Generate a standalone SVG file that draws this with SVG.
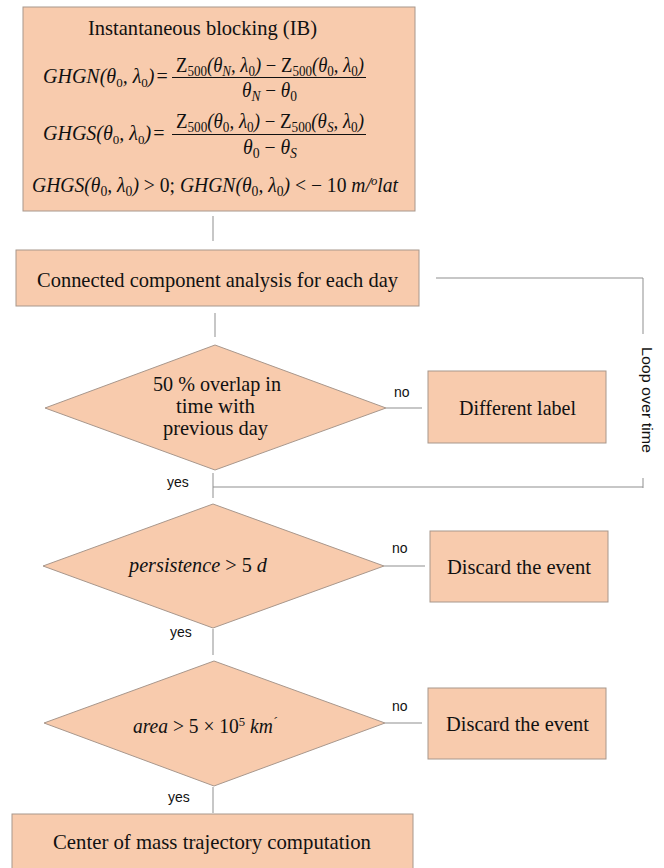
<svg xmlns="http://www.w3.org/2000/svg" width="664" height="868" viewBox="0 0 664 868">
<style>
.box{fill:#F8CBAD;stroke:#A8978C;stroke-width:1}
.ln{fill:none;stroke:#8F8F8F;stroke-width:1}
.t{font-family:"Liberation Serif",serif;font-size:21px;fill:#111}
.m{font-family:"Liberation Serif",serif;font-size:20px;fill:#111;font-style:italic}
.u{font-style:normal}
.lab{font-family:"Liberation Sans",Arial,sans-serif;font-size:14px;fill:#111}
</style>
<rect width="664" height="868" fill="#fff"/>
<g id="connectors">
<path class="ln" d="M213,216V241"/>
<path class="ln" d="M215,313V337"/>
<path class="ln" d="M386,408H422"/>
<path class="ln" d="M213,473V498"/>
<path class="ln" d="M213,487H643M643,478V488"/>
<path class="ln" d="M643,334V278H436"/>
<path class="ln" d="M384,566H425"/>
<path class="ln" d="M213,629V655"/>
<path class="ln" d="M385,723H422"/>
<path class="ln" d="M213,787V813"/>
<text class="lab" x="394" y="397">no</text>
<text class="lab" x="392" y="553">no</text>
<text class="lab" x="392" y="711">no</text>
<text class="lab" x="167" y="487">yes</text>
<text class="lab" x="170" y="637">yes</text>
<text class="lab" x="168" y="802">yes</text>
<text class="lab" transform="translate(642,400) rotate(90)" text-anchor="middle" font-size="15" textLength="106" lengthAdjust="spacingAndGlyphs">Loop over time</text>
</g>
<g id="ib">
<rect class="box" x="23" y="7" width="392" height="204"/>
<text class="t" x="88" y="35" textLength="229" lengthAdjust="spacingAndGlyphs">Instantaneous blocking (IB)</text>
<text class="m" x="43" y="83" font-size="17">GHGN(θ<tspan font-size="13" dy="4" class="u">0</tspan><tspan dy="-4">, λ</tspan><tspan font-size="13" dy="4" class="u">0</tspan><tspan dy="-4">)</tspan><tspan class="u" dx="2">=</tspan></text>
<text class="m" x="176" y="72" textLength="188" lengthAdjust="spacingAndGlyphs"><tspan class="u">Z</tspan><tspan class="u" font-size="14" dy="4">500</tspan><tspan dy="-4">(θ</tspan><tspan font-size="14" dy="4">N</tspan><tspan dy="-4">, λ</tspan><tspan class="u" font-size="14" dy="4">0</tspan><tspan dy="-4">) </tspan><tspan class="u">− Z</tspan><tspan class="u" font-size="14" dy="4">500</tspan><tspan dy="-4">(θ</tspan><tspan class="u" font-size="14" dy="4">0</tspan><tspan dy="-4">, λ</tspan><tspan class="u" font-size="14" dy="4">0</tspan><tspan dy="-4">)</tspan></text>
<path d="M172,77.5H366" stroke="#111" stroke-width="1"/>
<text class="m" x="242" y="97" textLength="55" lengthAdjust="spacingAndGlyphs">θ<tspan font-size="14" dy="4">N</tspan><tspan dy="-4" class="u"> − </tspan><tspan>θ</tspan><tspan class="u" font-size="14" dy="4">0</tspan></text>
<text class="m" x="43" y="140" font-size="17">GHGS(θ<tspan font-size="13" dy="4" class="u">0</tspan><tspan dy="-4">, λ</tspan><tspan font-size="13" dy="4" class="u">0</tspan><tspan dy="-4">)</tspan><tspan class="u" dx="2">=</tspan></text>
<text class="m" x="176" y="128" textLength="188" lengthAdjust="spacingAndGlyphs"><tspan class="u">Z</tspan><tspan class="u" font-size="14" dy="4">500</tspan><tspan dy="-4">(θ</tspan><tspan class="u" font-size="14" dy="4">0</tspan><tspan dy="-4">, λ</tspan><tspan class="u" font-size="14" dy="4">0</tspan><tspan dy="-4">) </tspan><tspan class="u">− Z</tspan><tspan class="u" font-size="14" dy="4">500</tspan><tspan dy="-4">(θ</tspan><tspan font-size="14" dy="4">S</tspan><tspan dy="-4">, λ</tspan><tspan class="u" font-size="14" dy="4">0</tspan><tspan dy="-4">)</tspan></text>
<path d="M172,134.5H366" stroke="#111" stroke-width="1"/>
<text class="m" x="243" y="154" textLength="54" lengthAdjust="spacingAndGlyphs">θ<tspan class="u" font-size="14" dy="4">0</tspan><tspan dy="-4" class="u"> − </tspan><tspan>θ</tspan><tspan font-size="14" dy="4">S</tspan></text>
<text class="m" x="32" y="192" textLength="366" lengthAdjust="spacingAndGlyphs">GHGS(θ<tspan font-size="14" dy="4" class="u">0</tspan><tspan dy="-4">, λ</tspan><tspan font-size="14" dy="4" class="u">0</tspan><tspan dy="-4">) </tspan><tspan class="u">&gt; 0; </tspan><tspan>GHGN(θ</tspan><tspan font-size="14" dy="4" class="u">0</tspan><tspan dy="-4">, λ</tspan><tspan font-size="14" dy="4" class="u">0</tspan><tspan dy="-4">) </tspan><tspan class="u">&lt; − 10 </tspan><tspan>m/</tspan><tspan font-size="13" dy="-7">o</tspan><tspan dy="7">lat</tspan></text>
</g>
<g id="cca">
<rect class="box" x="16" y="250" width="403" height="56"/>
<text class="t" x="37" y="287" textLength="361" lengthAdjust="spacingAndGlyphs">Connected component analysis for each day</text>
</g>
<g id="overlap">
<polygon class="box" points="45,408 215,345 386,408 215,470"/>
<text class="t" x="217" y="391" text-anchor="middle" textLength="128" lengthAdjust="spacingAndGlyphs">50 % overlap in</text>
<text class="t" x="215.5" y="413" text-anchor="middle" textLength="79" lengthAdjust="spacingAndGlyphs">time with</text>
<text class="t" x="215.5" y="435" text-anchor="middle" textLength="105" lengthAdjust="spacingAndGlyphs">previous day</text>
</g>
<g id="diff">
<rect class="box" x="428" y="371" width="178" height="72"/>
<text class="t" x="459" y="415" textLength="117" lengthAdjust="spacingAndGlyphs">Different label</text>
</g>
<g id="persist">
<polygon class="box" points="43,566 213,504 384,566 213,628"/>
<text class="m" x="129" y="572" textLength="138" lengthAdjust="spacingAndGlyphs">persistence <tspan class="u">&gt; 5 </tspan>d</text>
</g>
<g id="discard1">
<rect class="box" x="430" y="531" width="178" height="71"/>
<text class="t" x="447" y="574" textLength="144" lengthAdjust="spacingAndGlyphs">Discard the event</text>
</g>
<g id="area">
<polygon class="box" points="44,723 214,661 385,723 214,786"/>
<text class="m" x="133" y="733" textLength="144" lengthAdjust="spacingAndGlyphs">area <tspan class="u">&gt; 5 × 10</tspan><tspan class="u" font-size="13" dy="-7">5</tspan><tspan dy="7"> km</tspan><tspan font-size="13" dy="-7">´</tspan></text>
</g>
<g id="discard2">
<rect class="box" x="428" y="688" width="178" height="71"/>
<text class="t" x="446" y="731" textLength="143" lengthAdjust="spacingAndGlyphs">Discard the event</text>
</g>
<g id="com">
<rect class="box" x="12" y="814" width="401" height="60"/>
<text class="t" x="53" y="849" textLength="318" lengthAdjust="spacingAndGlyphs">Center of mass trajectory computation</text>
</g>
</svg>
